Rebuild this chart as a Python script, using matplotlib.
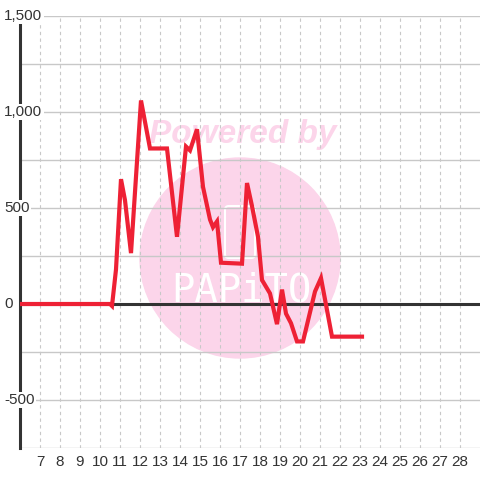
import matplotlib
matplotlib.use("Agg")
import matplotlib.pyplot as plt
from matplotlib.patches import Circle, FancyBboxPatch
from matplotlib.transforms import blended_transform_factory

plt.rcParams["font.family"] = ["Liberation Sans", "DejaVu Sans"]

# series (x = day, y = value)
days = [6.0, 10.5, 10.6, 10.8, 11.05, 11.25, 11.55, 12.05, 12.5, 13.35, 13.85,
        14.3, 14.5, 14.85, 15.15, 15.5, 15.65, 15.85, 16.05, 17.1, 17.35, 17.6,
        17.9, 18.1, 18.5, 18.85, 19.1, 19.3, 19.55, 19.85, 20.15, 20.75, 21.05,
        21.6, 23.1]
values = [0, 0, -10, 180, 650, 540, 265, 1060, 810, 810, 350,
          820, 800, 910, 610, 440, 400, 430, 215, 210, 630, 510,
          350, 125, 55, -105, 75, -50, -100, -195, -195, 65, 135,
          -170, -170]

x_ticks = list(range(7, 29))
y_grid = [-750, -500, -250, 0, 250, 500, 750, 1000, 1250, 1500]
y_label_vals = [1500, 1000, 500, 0, -500]
y_labels = ["1,500", "1,000", "500", "0", "-500"]

fig = plt.figure(figsize=(4.8, 4.8), dpi=100)
ax = fig.add_axes([20 / 480, 32 / 480, 460 / 480, 432 / 480])
ax.set_xlim(6, 29)
ax.set_ylim(-750, 1500)

# watermark
wm = "#fcd5ea"
ax.add_patch(Circle((0.5, 1 - 258 / 480), 100 / 480, transform=fig.transFigure,
                    color=wm, zorder=0.1, clip_on=False))
ax.add_patch(FancyBboxPatch((225 / 480, 1 - 258 / 480), 30 / 480, 52 / 480,
                            boxstyle="round,pad=0,rounding_size=0.008",
                            transform=fig.transFigure, fill=False,
                            edgecolor="white", lw=1.5, zorder=0.2))
ax.text(0.505, 1 - 135 / 480, "Powered by", transform=fig.transFigure,
        ha="center", va="center", fontsize=24, fontweight="bold",
        fontstyle="italic", color=wm, zorder=0.2)
ax.text(0.502, 1 - 290 / 480, "PAPiTO", transform=fig.transFigure,
        ha="center", va="center", fontsize=28, color="white",
        family="DejaVu Sans Mono", zorder=0.2)

# grid
ax.set_axisbelow(True)
ax.set_yticks(y_grid)
ax.set_xticks(x_ticks)
ax.grid(axis="y", color="#c8c8c8", lw=1)
ax.grid(axis="x", color="#c8c8c8", lw=0.8, ls=(0, (3, 3)))
ax.tick_params(axis="y", length=0, labelleft=False)
ax.tick_params(axis="x", length=0, labelsize=11, labelcolor="#333333", pad=5)

for s in ["top", "right", "bottom"]:
    ax.spines[s].set_visible(False)
ax.spines["left"].set_color("#333333")
ax.spines["left"].set_linewidth(2.2)
ax.axhline(0, color="#333333", lw=2.2, zorder=1)

# y labels sit over the spine with a white box
trans = blended_transform_factory(fig.transFigure, ax.transData)
for v, lab in zip(y_label_vals, y_labels):
    ax.text(4 / 480, v, lab, transform=trans, ha="left", va="center",
            fontsize=11, color="#333333", zorder=5, clip_on=False,
            bbox=dict(facecolor="white", edgecolor="none", pad=1))

ax.plot(days, values, color="#ee2135", lw=3, zorder=4, solid_joinstyle="miter")

fig.savefig("out.png", dpi=100, facecolor="white")
